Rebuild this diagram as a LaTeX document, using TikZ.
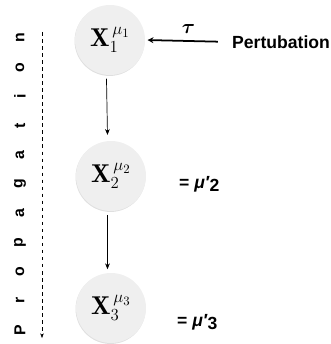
\documentclass[tikz,border=0pt]{standalone}
\usepackage{amsmath}
\usepackage{fontspec}
\setsansfont{Liberation Sans}
\usetikzlibrary{arrows.meta, positioning, shadows}
\definecolor{nodefill}{HTML}{EFEFEF}

\tikzset{
  statenode/.style={circle, minimum size=2.1cm, inner sep=0pt, fill=nodefill,
    drop shadow={shadow xshift=-0.4pt, shadow yshift=-0.8pt, opacity=0.25},
    font=\fontsize{22}{24}\selectfont},
  sidetext/.style={font=\fontsize{15}{18}\selectfont\sffamily\bfseries},
  letter/.style={font=\fontsize{13.5}{15}\selectfont\sffamily\bfseries, rotate=90, inner sep=0pt},
  flow/.style={-{Stealth[length=5pt, width=4pt]}, semithick}
}

\begin{document}
\begin{tikzpicture}[x=0.03cm, y=-0.03cm]
\useasboundingbox (0,0) rectangle (330,344);
% states
\node[statenode] (x1) at (110,40) {$\mathbf{X}_1^{\,\mu_1}$};
\node[statenode] (x2) at (111,176) {$\mathbf{X}_2^{\,\mu_2}$};
\node[statenode] (x3) at (111,308) {$\mathbf{X}_3^{\,\mu_3}$};

% perturbation
\node[sidetext, anchor=west, inner sep=0pt] (pert) at (232,42) {Pertubation};
\draw[-{Stealth[length=5pt, width=5pt]}, line width=1.5pt, shorten <=12pt, shorten >=2pt] (pert.west) -- node[above=2pt, font=\fontsize{16}{18}\selectfont] (tau) {$\boldsymbol{\tau}$} (x1.east);

% propagation
\draw[flow] ([xshift=-3pt, yshift=-3pt]x1.south) -- ([xshift=-3pt, yshift=5pt]x2.north);
\draw[flow] ([xshift=-3pt, yshift=-3pt]x2.south) -- ([xshift=-3pt, yshift=3pt]x3.north);

\node[sidetext, anchor=west] (eq2) at (175,184) {= \textit{μ′}\raisebox{-0.35ex}{2}};
\node[sidetext, anchor=west] (eq3) at (173,322) {= \textit{μ′}\raisebox{-0.35ex}{3}};

% side axis
\coordinate (axtop) at (42,32);
\coordinate (axbot) at (42,338);
\draw[dashed, -{Stealth[length=4pt, width=3pt]}] (axtop) -- (axbot);
\foreach \c [count=\i from 0] in {P,r,o,p,a,g,a,t,i,o,n}
  \node[letter] (l\i) at (20, 330-29.2*\i) {\c};
\end{tikzpicture}
\end{document}
